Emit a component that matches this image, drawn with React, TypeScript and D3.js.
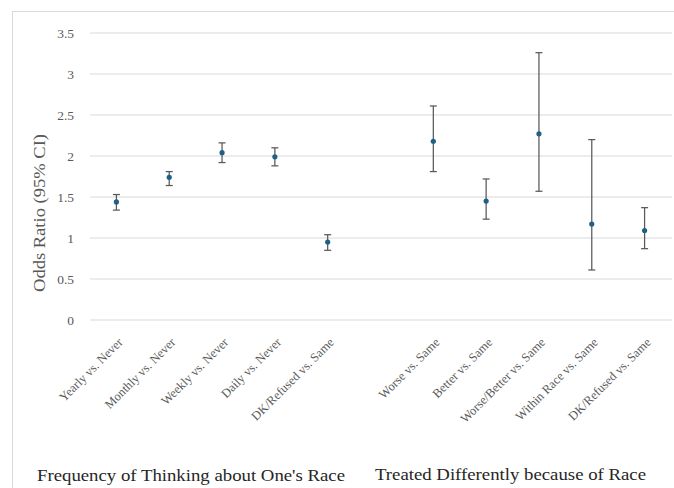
import React from "react";
import * as d3 from "d3";

const categories = [
  "Yearly vs. Never",
  "Monthly vs. Never",
  "Weekly vs. Never",
  "Daily vs. Never",
  "DK/Refused vs. Same",
  "Worse vs. Same",
  "Better vs. Same",
  "Worse/Better vs. Same",
  "Within Race vs. Same",
  "DK/Refused vs. Same",
];
const groupOf = [0, 0, 0, 0, 0, 1, 1, 1, 1, 1];
const groups = ["Frequency of Thinking about One's Race", "Treated Differently because of Race"];
const oddsRatio = [1.44, 1.74, 2.04, 1.99, 0.95, 2.18, 1.45, 2.27, 1.17, 1.09];
const ciLower = [1.34, 1.64, 1.92, 1.88, 0.85, 1.81, 1.23, 1.57, 0.61, 0.87];
const ciUpper = [1.53, 1.81, 2.16, 2.1, 1.04, 2.61, 1.72, 3.26, 2.2, 1.37];
const yTicks = [0, 0.5, 1, 1.5, 2, 2.5, 3, 3.5];

const W = 674;
const H = 488;
const FONT = "'Palatino Linotype', 'Book Antiqua', Palatino, 'Liberation Serif', serif";

export default function App() {
  const slots = d3.range(11);
  const x = d3.scaleBand<number>().domain(slots).range([90, 671]).paddingInner(0);
  const y = d3.scaleLinear().domain([0, 3.5]).range([320, 33]);
  const slotOf = (i: number) => (groupOf[i] === 0 ? i : i + 1);
  const cx = (i: number) => (x(slotOf(i)) as number) + x.bandwidth() / 2;
  const cap = 3.5;

  return (
    <svg width={W} height={H} style={{ position: "absolute", left: 0, top: 0, background: "#fff" }}>
      <rect x={12.5} y={11.5} width={700} height={500} fill="#fff" stroke="#d9d9d9" />
      {yTicks.map((t) => (
        <g key={t}>
          <line x1={90} x2={672} y1={y(t)} y2={y(t)} stroke="#d9d9d9" strokeWidth={1} />
          <text
            x={74}
            y={y(t)}
            dy="0.35em"
            textAnchor="end"
            fontFamily={FONT}
            fontSize={13.5}
            fill="#595959"
          >
            {d3.format("")(t)}
          </text>
        </g>
      ))}
      <text
        transform={`translate(45, 213) rotate(-90)`}
        textAnchor="middle"
        fontFamily={FONT}
        fontSize={16}
        textLength={158}
        lengthAdjust="spacingAndGlyphs"
        fill="#595959"
      >
        Odds Ratio (95% CI)
      </text>
      {categories.map((c, i) => (
        <g key={i}>
          <line x1={cx(i)} x2={cx(i)} y1={y(ciLower[i])} y2={y(ciUpper[i])} stroke="#595959" strokeWidth={1.25} />
          <line x1={cx(i) - cap} x2={cx(i) + cap} y1={y(ciLower[i])} y2={y(ciLower[i])} stroke="#595959" strokeWidth={1.25} />
          <line x1={cx(i) - cap} x2={cx(i) + cap} y1={y(ciUpper[i])} y2={y(ciUpper[i])} stroke="#595959" strokeWidth={1.25} />
          <circle cx={cx(i)} cy={y(oddsRatio[i])} r={2.6} fill="#1f6184" />
          <text
            transform={`translate(${cx(i) + 7}, 343) rotate(-45)`}
            textAnchor="end"
            fontFamily={FONT}
            fontSize={12.5}
            fill="#595959"
          >
            {c}
          </text>
        </g>
      ))}
      <text
        x={191}
        y={481}
        textAnchor="middle"
        fontFamily={FONT}
        fontSize={17}
        textLength={308}
        lengthAdjust="spacingAndGlyphs"
        fill="#262626"
      >
        {groups[0]}
      </text>
      <text
        x={510.5}
        y={480}
        textAnchor="middle"
        fontFamily={FONT}
        fontSize={17}
        textLength={271}
        lengthAdjust="spacingAndGlyphs"
        fill="#262626"
      >
        {groups[1]}
      </text>
    </svg>
  );
}
